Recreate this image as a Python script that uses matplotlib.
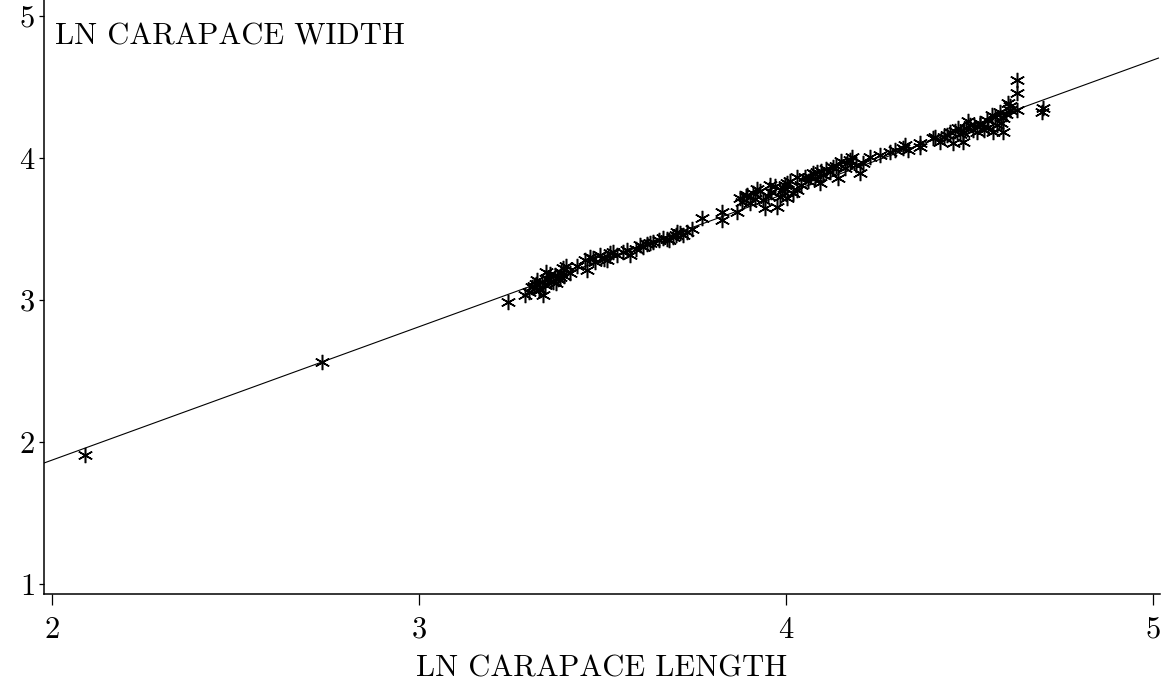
import matplotlib
matplotlib.use("Agg")
from matplotlib import pyplot as plot
import numpy as np

#ln carapace length / width
ln_length = [
    2.090, 2.736,
    3.243, 3.289, 3.308, 3.330, 3.338, 3.322, 3.349, 3.365, 3.384, 3.392,
    3.411, 3.452, 3.458, 3.474, 3.493, 3.512, 3.529, 3.567, 3.575, 3.602,
    3.629, 3.300, 3.318, 3.356, 3.372, 3.345, 3.400, 3.480, 3.540, 3.590,
    3.610, 3.638, 3.665, 3.692, 3.703, 3.719, 3.744, 3.771, 3.826, 3.826,
    3.866, 3.875, 3.910, 3.902, 3.937, 3.943, 3.956, 3.975, 3.984, 4.003,
    4.019, 4.030, 3.680, 3.710, 3.890, 3.920, 3.960, 3.995,
    3.997, 4.003, 4.030, 4.052, 4.074, 4.093, 4.101, 4.128, 4.142, 4.166,
    4.180, 4.202, 4.210, 4.229, 4.256, 4.283, 4.297, 4.324, 4.332, 4.365,
    4.406, 4.060, 4.085, 4.110, 4.150, 4.190, 4.320,
    4.365, 4.401, 4.420, 4.447, 4.455, 4.482, 4.482, 4.501, 4.520, 4.529,
    4.548, 4.561, 4.575, 4.564, 4.591, 4.591, 4.583, 4.605, 4.610, 4.629,
    4.629, 4.629, 4.698, 4.430, 4.470, 4.495, 4.540, 4.610, 4.700,
    #extra points in the dense clusters
    3.312, 3.326, 3.335, 3.342, 3.352, 3.360, 3.370, 3.378, 3.388, 3.396,
    3.430, 3.466, 3.505, 3.520, 3.555, 3.620, 3.655, 3.675, 3.700, 3.730,
    3.880, 3.895, 3.915, 3.930, 3.950, 3.970, 3.990, 4.010, 4.040, 4.065,
    4.080, 4.095, 4.120, 4.135, 4.160, 4.175,
    4.440, 4.460, 4.475, 4.490, 4.510, 4.530, 4.550, 4.570, 4.585, 4.600,
]
ln_width = [
    1.908, 2.563,
    2.986, 3.035, 3.092, 3.070, 3.035, 3.141, 3.155, 3.127, 3.162, 3.225,
    3.190, 3.282, 3.211, 3.296, 3.317, 3.282, 3.338, 3.352, 3.317, 3.387,
    3.401, 3.060, 3.110, 3.180, 3.120, 3.200, 3.240, 3.270, 3.320, 3.360,
    3.373, 3.408, 3.437, 3.444, 3.479, 3.458, 3.500, 3.577, 3.620, 3.563,
    3.620, 3.718, 3.754, 3.683, 3.704, 3.648, 3.810, 3.655, 3.725, 3.824,
    3.754, 3.866, 3.420, 3.470, 3.730, 3.780, 3.760, 3.790,
    3.810, 3.718, 3.775, 3.866, 3.894, 3.824, 3.880, 3.937, 3.859, 3.965,
    4.007, 3.894, 3.965, 4.007, 4.021, 4.042, 4.056, 4.092, 4.056, 4.106,
    4.148, 3.840, 3.900, 3.920, 3.980, 3.950, 4.070,
    4.077, 4.141, 4.113, 4.183, 4.106, 4.176, 4.113, 4.232, 4.183, 4.232,
    4.268, 4.303, 4.232, 4.183, 4.183, 4.282, 4.324, 4.387, 4.338, 4.338,
    4.458, 4.549, 4.324, 4.150, 4.210, 4.260, 4.200, 4.370, 4.350,
    #extra points in the dense clusters
    3.100, 3.080, 3.130, 3.105, 3.150, 3.135, 3.175, 3.145, 3.195, 3.170,
    3.240, 3.300, 3.290, 3.330, 3.340, 3.395, 3.420, 3.430, 3.460, 3.480,
    3.690, 3.740, 3.710, 3.770, 3.735, 3.800, 3.770, 3.840, 3.810, 3.870,
    3.860, 3.910, 3.900, 3.945, 3.930, 3.985,
    4.160, 4.190, 4.170, 4.215, 4.200, 4.250, 4.220, 4.290, 4.250, 4.310,
]

#fitted line
FIT_SLOPE = 0.939
FIT_INTERCEPT = -0.005

x_ticks = [2, 3, 4, 5]
y_ticks = [1, 2, 3, 4, 5]


def main():
    plot.rcParams["font.family"] = ["cmr10", "DejaVu Serif"]
    plot.rcParams["axes.formatter.use_mathtext"] = True

    figure = plot.figure(figsize=(11.74, 6.91), dpi=100)
    axis = figure.add_axes([0.0375, 0.1404, 0.9505, 0.8596])

    xlim = (1.978, 5.019)
    ylim = (0.93, 5.113)

    fit_x = np.array([xlim[0], 5.015])
    axis.plot(fit_x, FIT_INTERCEPT + FIT_SLOPE * fit_x, color="black", linewidth=0.8)

    axis.plot(ln_length, ln_width, linestyle="none", marker=(6, 2, 0),
              markersize=11, markeredgewidth=1.1, color="black")

    axis.set_xlim(xlim)
    axis.set_ylim(ylim)
    axis.set_xticks(x_ticks)
    axis.set_yticks(y_ticks)
    axis.tick_params(axis="x", direction="out", length=8, width=0.9, labelsize=22, pad=8)
    axis.tick_params(axis="y", direction="out", length=3.5, width=0.9, labelsize=22, pad=3)

    axis.spines["top"].set_visible(False)
    axis.spines["right"].set_visible(False)
    for side in ("left", "bottom"):
        axis.spines[side].set_linewidth(1.1)

    axis.set_xlabel("LN CARAPACE LENGTH", fontsize=22, labelpad=8)
    axis.text(0.01, 0.962, "LN CARAPACE WIDTH", transform=axis.transAxes,
              fontsize=22, ha="left", va="top")

    plot.savefig("out.png", dpi=100)


if (__name__ == "__main__"):
    main()
